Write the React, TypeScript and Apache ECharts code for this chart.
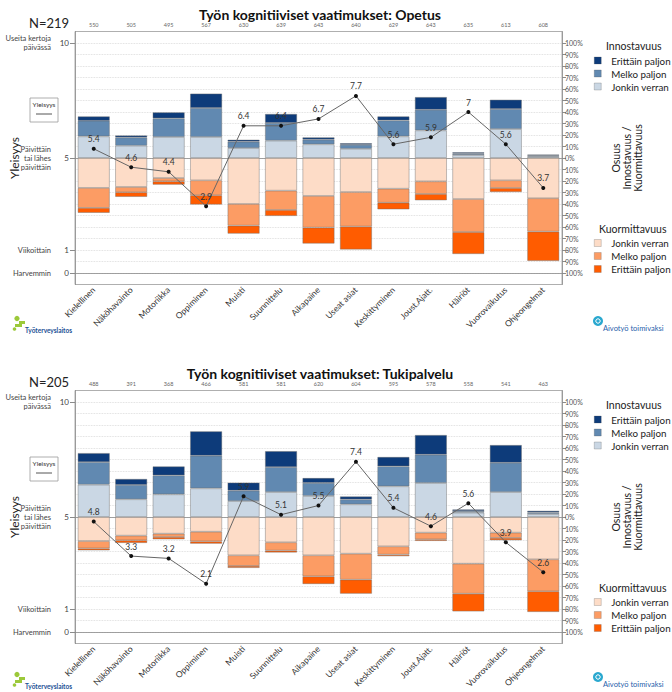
import React, { useEffect, useRef } from "react";
import * as echarts from "echarts";

const categories = ["Kielellinen", "Näköhavainto", "Motoriikka", "Oppiminen", "Muisti", "Suunnittelu", "Aikapaine", "Useat asiat", "Keskittyminen", "Joust.Ajatt.", "Häiriöt", "Vuorovaikutus", "Ohjeongelmat"];

// Panel 1: Opetus
const opetusTitle = "Työn kognitiiviset vaatimukset: Opetus";
const opetusN = "N=219";
const opetusCounts = ["550", "505", "495", "567", "630", "639", "643", "640", "629", "643", "635", "613", "608"];
const opetusYleisyys = [5.4, 4.6, 4.4, 2.9, 6.4, 6.4, 6.7, 7.7, 5.6, 5.9, 7, 5.6, 3.7];
const opetusInnoJonkin = [18.8, 10.7, 18.3, 18.3, 8.7, 15.1, 11.9, 8.0, 18.8, 24.0, 2.6, 25.2, 1.2];
const opetusInnoMelko = [13.6, 7.2, 16.2, 25.2, 5.5, 15.4, 4.1, 3.5, 13.9, 18.0, 1.2, 17.4, 0.9];
const opetusInnoErittain = [3.8, 1.7, 5.2, 12.5, 1.7, 7.8, 2.0, 1.4, 3.5, 11.0, 1.2, 8.1, 0.9];
const opetusKuormJonkin = [26.0, 25.2, 17.4, 19.4, 40.0, 28.4, 33.0, 29.6, 26.7, 20.3, 35.7, 19.4, 35.0];
const opetusKuormMelko = [17.4, 4.6, 2.9, 13.0, 18.8, 16.8, 27.5, 30.0, 12.2, 11.0, 28.7, 6.7, 29.0];
const opetusKuormErittain = [4.3, 4.0, 2.9, 8.1, 7.0, 5.2, 13.9, 20.0, 5.8, 5.5, 19.1, 3.5, 25.5];

// Panel 2: Tukipalvelu
const tukiTitle = "Työn kognitiiviset vaatimukset: Tukipalvelu";
const tukiN = "N=205";
const tukiCounts = ["488", "391", "368", "466", "581", "581", "620", "604", "595", "578", "558", "541", "463"];
const tukiYleisyys = [4.8, 3.3, 3.2, 2.1, 5.9, 5.1, 5.5, 7.4, 5.4, 4.6, 5.6, 3.9, 2.6];
const tukiInnoJonkin = [28.1, 15.4, 19.7, 24.9, 13.9, 21.7, 18.3, 11.0, 26.7, 29.6, 3.8, 21.7, 2.6];
const tukiInnoMelko = [19.7, 12.5, 16.5, 28.4, 9.0, 21.7, 11.3, 4.3, 17.4, 24.6, 1.4, 25.5, 1.4];
const tukiInnoErittain = [7.8, 5.2, 7.8, 21.2, 7.0, 13.9, 4.3, 2.6, 8.1, 17.1, 1.4, 15.4, 1.4];
const tukiKuormJonkin = [20.9, 16.2, 14.5, 12.8, 33.3, 22.0, 33.3, 31.9, 25.5, 13.6, 40.6, 13.6, 36.8];
const tukiKuormMelko = [6.4, 4.1, 2.9, 8.4, 9.3, 7.2, 18.3, 22.6, 7.2, 5.8, 26.1, 4.6, 27.8];
const tukiKuormErittain = [1.7, 2.3, 2.0, 2.0, 1.7, 1.7, 6.7, 12.2, 1.4, 1.4, 15.4, 2.0, 18.0];

const yleisyysTicks = [0, 1, 5, 10];
const yleisyysNames: Record<number, string> = {
  10: "Useita kertoja\npäivässä",
  5: "Päivittäin\ntai lähes\npäivittäin",
  1: "Viikoittain",
  0: "Harvemmin",
};
const pctTicks = [-100, -90, -80, -70, -60, -50, -40, -30, -20, -10, 0, 10, 20, 30, 40, 50, 60, 70, 80, 90, 100];
const innoLegend = ["I:Erittäin paljon", "I:Melko paljon", "I:Jonkin verran"];
const kuormLegend = ["K:Jonkin verran", "K:Melko paljon", "K:Erittäin paljon"];

const F = "Lato, 'Noto Sans', sans-serif";
const COL = {
  ie: "#0d3b7a",
  im: "#6189b1",
  ij: "#cad7e4",
  kj: "#fddcc7",
  km: "#fc9c64",
  ke: "#ff5c00",
};

type PanelData = {
  title: string;
  n: string;
  counts: string[];
  yl: number[];
  ij: number[];
  im: number[];
  ie: number[];
  kj: number[];
  km: number[];
  ke: number[];
};

const panels: PanelData[] = [
  { title: opetusTitle, n: opetusN, counts: opetusCounts, yl: opetusYleisyys, ij: opetusInnoJonkin, im: opetusInnoMelko, ie: opetusInnoErittain, kj: opetusKuormJonkin, km: opetusKuormMelko, ke: opetusKuormErittain },
  { title: tukiTitle, n: tukiN, counts: tukiCounts, yl: tukiYleisyys, ij: tukiInnoJonkin, im: tukiInnoMelko, ie: tukiInnoErittain, kj: tukiKuormJonkin, km: tukiKuormMelko, ke: tukiKuormErittain },
];

const GRID_TOP = [31.5, 390.5];
const LOGO_OFF = [0, 356];
const GRID_H = 253;

function buildOption() {
  const grid: any[] = [];
  const xAxis: any[] = [];
  const yAxis: any[] = [];
  const series: any[] = [];
  const legend: any[] = [];
  const graphic: any[] = [];

  panels.forEach((p, i) => {
    const T = GRID_TOP[i];
    const off = T - GRID_TOP[0];
    grid.push({ left: 75, width: 487, top: T, height: GRID_H, show: true, borderColor: "#9a9a9a", borderWidth: 0.8 });
    xAxis.push({
      type: "category", gridIndex: i, data: categories, position: "bottom",
      axisLine: { lineStyle: { color: "#8a8a8a", width: 0.8 } },
      axisTick: { alignWithLabel: true, length: 4, lineStyle: { color: "#8a8a8a" } },
      axisLabel: { rotate: 45, fontSize: 8.5, color: "#333", fontFamily: F, margin: 4, interval: 0 },
    });
    xAxis.push({
      type: "category", gridIndex: i, data: p.counts, position: "top",
      axisLine: { lineStyle: { color: "#8a8a8a", width: 0.8 } },
      axisTick: { alignWithLabel: true, length: 3, lineStyle: { color: "#8a8a8a" } },
      axisLabel: { fontSize: 5.5, color: "#666", fontFamily: F, margin: 4, interval: 0 },
    });
    yAxis.push({
      type: "value", gridIndex: i, position: "right", min: -110, max: 110, interval: 10,
      axisLine: { show: true, lineStyle: { color: "#8a8a8a", width: 0.8 } },
      axisTick: { show: true, length: 4, customValues: pctTicks, lineStyle: { color: "#8a8a8a" } },
      axisLabel: { customValues: pctTicks, formatter: (v: number) => Math.abs(Math.round(v)) + "%", fontSize: 7, color: "#555", fontFamily: F, margin: 3 },
      splitLine: { show: true, lineStyle: { type: "dotted", color: "#d6d6d6", width: 0.8 } },
    });
    yAxis.push({
      type: "value", gridIndex: i, position: "left", min: -0.5, max: 10.5, interval: 0.5,
      axisLine: { show: true, lineStyle: { color: "#8a8a8a", width: 0.8 } },
      axisTick: { show: true, length: 5, customValues: yleisyysTicks, lineStyle: { color: "#8a8a8a" } },
      axisLabel: { customValues: yleisyysTicks, fontSize: 8, color: "#444", fontFamily: F, margin: 6 },
      splitLine: { show: false },
    });
    yAxis.push({
      type: "value", gridIndex: i, position: "left", min: -0.5, max: 10.5, interval: 0.5,
      axisLine: { show: false }, axisTick: { show: false },
      axisLabel: { customValues: yleisyysTicks, formatter: (v: number) => yleisyysNames[Math.round(v)] || "", fontSize: 7.5, lineHeight: 9, color: "#444", fontFamily: F, margin: 24 },
      splitLine: { show: false },
    });

    const bar = (name: string, data: number[], color: string) => ({
      type: "bar", name, xAxisIndex: 2 * i, yAxisIndex: 3 * i, stack: "st" + i, barWidth: 32,
      data, itemStyle: { color, borderColor: "rgba(105,105,105,0.6)", borderWidth: 0.7 },
      emphasis: { disabled: true }, z: 2,
    });
    series.push(bar("I:Jonkin verran", p.ij, COL.ij));
    series.push(bar("I:Melko paljon", p.im, COL.im));
    series.push(bar("I:Erittäin paljon", p.ie, COL.ie));
    series.push(bar("K:Jonkin verran", p.kj.map((v) => -v), COL.kj));
    series.push(bar("K:Melko paljon", p.km.map((v) => -v), COL.km));
    series.push(bar("K:Erittäin paljon", p.ke.map((v) => -v), COL.ke));
    series.push({
      type: "line", name: "Yleisyys", xAxisIndex: 2 * i, yAxisIndex: 3 * i + 1, data: p.yl,
      symbol: "circle", symbolSize: 4, lineStyle: { color: "#666", width: 1 }, itemStyle: { color: "#111" },
      label: { show: true, position: "top", distance: 3, fontSize: 8.5, color: "#333", fontFamily: F },
      emphasis: { disabled: true }, z: 5,
    });

    const legendCommon = {
      orient: "vertical", left: 594, itemWidth: 7, itemHeight: 7, itemGap: 0, icon: "rect", padding: 0,
      selectedMode: false, formatter: (n: string) => n.slice(2),
      itemStyle: { borderColor: "rgba(80,80,80,0.5)", borderWidth: 0.5 },
      textStyle: { fontSize: 9.8, lineHeight: 13, color: "#222", fontFamily: F, padding: [0, 0, 0, 5] },
    };
    legend.push({ ...legendCommon, top: 54 + off, data: innoLegend });
    legend.push({ ...legendCommon, top: 236.5 + off, data: kuormLegend });

    graphic.push({ type: "text", x: 320, y: 14.5 + off, style: { text: p.title, fontSize: 14, fontWeight: "bold", fontFamily: F, fill: "#111", align: "center", verticalAlign: "middle" } });
    graphic.push({ type: "text", x: 29, y: 23 + off, style: { text: p.n, fontSize: 13, fontFamily: F, fill: "#222", align: "left", verticalAlign: "middle" } });
    graphic.push({ type: "text", x: 606, y: 46 + off, style: { text: "Innostavuus", fontSize: 10.5, fontFamily: F, fill: "#222", align: "left", verticalAlign: "middle" } });
    graphic.push({ type: "text", x: 599, y: 229 + off, style: { text: "Kuormittavuus", fontSize: 10.5, fontFamily: F, fill: "#222", align: "left", verticalAlign: "middle" } });
    graphic.push({ type: "text", x: 627, y: 158 + off, rotation: Math.PI / 2, style: { text: "Osuus\nInnostavuus /\nKuormittavuus", fontSize: 10.5, lineHeight: 11, fontFamily: F, fill: "#222", align: "center", verticalAlign: "middle" } });
    graphic.push({ type: "text", x: 14, y: 158 + off, rotation: Math.PI / 2, style: { text: "Yleisyys", fontSize: 12, fontFamily: F, fill: "#222", align: "center", verticalAlign: "middle" } });
    // Yleisyys key box
    graphic.push({ type: "rect", shape: { x: 30, y: 98 + off, width: 28, height: 24 }, style: { fill: "#fff", stroke: "#999", lineWidth: 0.8 } });
    graphic.push({ type: "text", x: 44, y: 104.5 + off, style: { text: "Yleisyys", fontSize: 6.5, fontFamily: F, fill: "#333", align: "center", verticalAlign: "middle" } });
    graphic.push({ type: "line", shape: { x1: 36, y1: 114 + off, x2: 52, y2: 114 + off }, style: { stroke: "#555", lineWidth: 1 } });

    const lo = LOGO_OFF[i];
    // Työterveyslaitos logo
    graphic.push({ type: "circle", shape: { cx: 17, cy: 318.5 + lo, r: 2.6 }, style: { fill: "#9cc93a" } });
    graphic.push({ type: "polygon", shape: { points: [[19, 321 + lo], [25, 321 + lo], [25, 324 + lo], [22, 324 + lo], [22, 327 + lo], [15, 327 + lo], [15, 324 + lo], [19, 324 + lo]] }, style: { fill: "#9cc93a" } });
    graphic.push({ type: "circle", shape: { cx: 14.5, cy: 329 + lo, r: 1.8 }, style: { fill: "#9cc93a" } });
    graphic.push({ type: "text", x: 25, y: 330 + lo, style: { text: "Työterveyslaitos", fontSize: 6.5, fontWeight: "bold", fontFamily: F, fill: "#1b4f94", align: "left", verticalAlign: "middle" } });
    // Aivotyö toimivaksi logo
    graphic.push({ type: "circle", shape: { cx: 598, cy: 321 + lo, r: 5 }, style: { fill: "#2aa8cf" } });
    graphic.push({ type: "circle", shape: { cx: 598, cy: 321 + lo, r: 2.2 }, style: { fill: "none", stroke: "#fff", lineWidth: 1 } });
    graphic.push({ type: "text", x: 603, y: 328.5 + lo, style: { text: "Aivotyö toimivaksi", fontSize: 7.5, fontFamily: F, fill: "#1f62ab", align: "left", verticalAlign: "middle" } });
  });

  return { animation: false, backgroundColor: "#fff", grid, xAxis, yAxis, series, legend, graphic, textStyle: { fontFamily: F } };
}

export default function App() {
  const ref = useRef<HTMLDivElement>(null);
  useEffect(() => {
    if (!ref.current) return;
    const chart = echarts.init(ref.current, null, { renderer: "svg" });
    chart.setOption(buildOption() as any);
    return () => chart.dispose();
  }, []);
  return <div ref={ref} style={{ position: "absolute", left: 0, top: 0, width: 672, height: 692 }} />;
}
